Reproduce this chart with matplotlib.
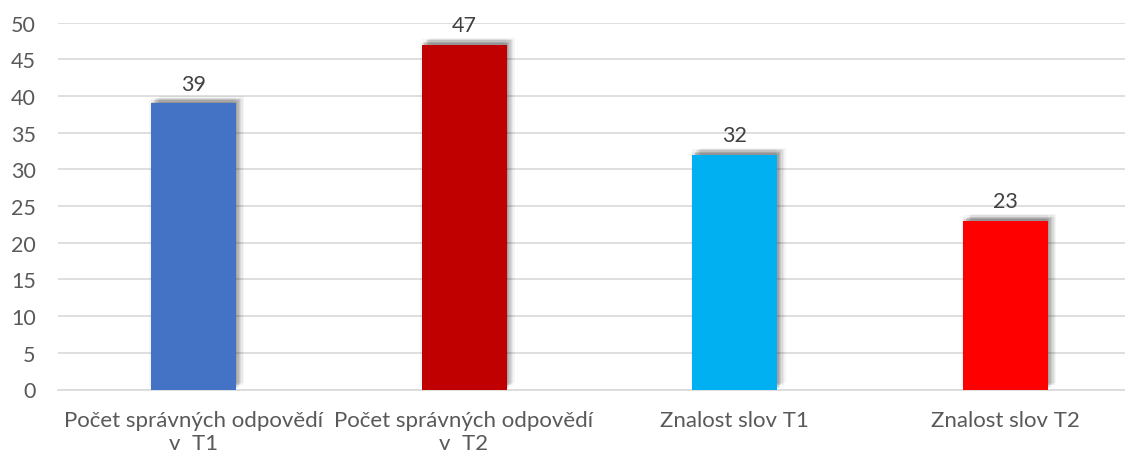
import matplotlib.pyplot as plt
import matplotlib.patheffects as pe

categories = ["Počet správných odpovědí\nv  T1", "Počet správných odpovědí\nv  T2",
              "Znalost slov T1", "Znalost slov T2"]
values = [39, 47, 32, 23]
colors = ["#4472C4", "#C00000", "#00B0F0", "#FF0000"]

plt.rcParams['font.family'] = ['Lato', 'DejaVu Sans']
text_color = "#595959"

fig = plt.figure(figsize=(11.25, 4.6), dpi=100)
ax = fig.add_axes([58 / 1125, (460 - 390.5) / 460, 1067 / 1125, 367 / 460])

# soft shadow, stacked layers to fake blur
shadow = []
for dx, dy, a in [(1, 1, 0.10), (2, 2, 0.09), (3, 3, 0.08), (4, 4, 0.06),
                  (5, 3, 0.05), (6, 5, 0.04), (0, 4, 0.04), (-1, 2, 0.04)]:
    shadow.append(pe.SimplePatchShadow(offset=(dx, dy), shadow_rgbFace='black', alpha=a))
shadow.append(pe.Normal())

x = range(len(values))
bars = ax.bar(x, values, width=0.314, color=colors, zorder=3)
for b in bars:
    b.set_path_effects(shadow)

for xi, v in zip(x, values):
    ax.annotate(str(v), (xi, v), xytext=(0, 7), textcoords='offset points',
                ha='center', va='bottom', fontsize=15.5, color="#404040")

ax.set_ylim(0, 50)
ax.set_yticks(range(0, 51, 5))
ax.set_xlim(-0.5, -0.5 + 1067 / 270.7)
ax.set_xticks(list(x))
ax.set_xticklabels(categories, fontsize=16, color=text_color, linespacing=1.15)
ax.tick_params(axis='y', labelsize=15.5, labelcolor=text_color, length=0, pad=16)
ax.tick_params(axis='x', length=0, pad=15)

ax.grid(axis='y', color="#D9D9D9", linewidth=1.2, zorder=0)
for s in ['top', 'right', 'left']:
    ax.spines[s].set_visible(False)
ax.spines['bottom'].set_color("#D9D9D9")
ax.spines['bottom'].set_linewidth(1.2)

fig.savefig("out.png", dpi=100)
